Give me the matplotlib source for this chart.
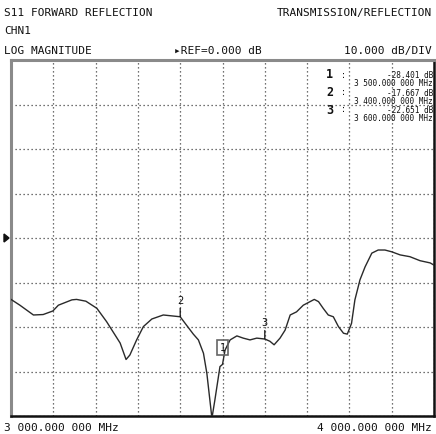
import matplotlib
matplotlib.use("Agg")
import matplotlib.pyplot as plt
from matplotlib.patches import Polygon
import numpy as np

# trace: frequency (MHz) and S11 (dB)
freq_mhz = [3000, 3021, 3053, 3076, 3099, 3112, 3144, 3155, 3177, 3203,
            3226, 3246, 3258, 3272, 3281, 3297, 3313, 3333, 3360, 3400,
            3415, 3431, 3443, 3455, 3463, 3475, 3482, 3494, 3500, 3506,
            3518, 3534, 3549, 3565, 3581, 3600, 3612, 3622, 3636, 3648,
            3660, 3675, 3691, 3707, 3717, 3727, 3738, 3750, 3762, 3774,
            3786, 3795, 3805, 3813, 3825, 3837, 3853, 3868, 3884, 3900,
            3920, 3943, 3967, 3991, 4000]
s11_db = [-13.8, -15.1, -17.3, -17.2, -16.4, -15.1, -13.9, -13.8, -14.2, -15.8,
          -18.8, -21.8, -23.6, -27.3, -26.3, -22.9, -19.9, -18.2, -17.3, -17.7,
          -19.6, -21.6, -22.9, -25.9, -30.4, -40.5, -36.4, -28.9, -28.4, -25.2,
          -22.9, -22.0, -22.5, -22.9, -22.5, -22.7, -23.2, -24.0, -22.5, -20.7,
          -17.3, -16.6, -15.1, -14.3, -13.8, -14.3, -15.8, -17.3, -17.7, -19.9,
          -21.4, -21.6, -19.2, -13.9, -9.4, -6.5, -3.4, -2.7, -2.7, -3.1,
          -3.8, -4.2, -5.1, -5.6, -6.1]

marker_ids = ["1", "2", "3"]
marker_freq = [3500.0, 3400.0, 3600.0]
marker_db = [-28.401, -17.667, -22.651]

f_start, f_stop = 3000.0, 4000.0
ref_db = 0.0
db_per_div = 10.0
n_ydiv, n_xdiv = 8, 10

W, H = 436, 434
MONO = ["DejaVu Sans Mono", "DejaVu Sans"]
INK = "#111111"


def px(x, y):
    return x / W, 1 - y / H


def mhz_label(f):
    return f"{int(f // 1000)} {f % 1000:07.3f} 000 MHz"


fig = plt.figure(figsize=(W / 100, H / 100), dpi=100)
fig.patch.set_facecolor("white")
ax = fig.add_axes([11 / W, 18 / H, 423 / W, 356 / H])

ax.plot(freq_mhz, s11_db, color="#2a2a2a", lw=1.0, zorder=3, clip_on=True)

ax.set_xlim(f_start, f_stop)
ymin = ref_db - db_per_div * n_ydiv / 2
ax.set_ylim(ymin, ref_db + db_per_div * n_ydiv / 2)
ax.set_xticks(np.linspace(f_start, f_stop, n_xdiv + 1))
ax.set_yticks(np.linspace(ymin, -ymin, n_ydiv + 1))
ax.tick_params(length=0, labelbottom=False, labelleft=False)
ax.grid(True, color="#444444", ls=(0, (1, 2.2)), lw=0.9)

for side in ("left", "top"):
    ax.spines[side].set_color("#8a8a8a")
    ax.spines[side].set_linewidth(2.2)
for side in ("right", "bottom"):
    ax.spines[side].set_color(INK)
    ax.spines[side].set_linewidth(1.8)

# markers: 1 is the active one (boxed), 2 and 3 get a number over a stem
for mid, f, v in zip(marker_ids, marker_freq, marker_db):
    if mid == "1":
        ax.annotate(mid, (f, v), xytext=(0, 12), textcoords="offset points",
                    ha="center", va="center", fontsize=7, family=MONO, color=INK,
                    bbox=dict(boxstyle="square,pad=0.25", fc="none", ec="#666666", lw=1.2))
    else:
        ax.annotate(mid, (f, v), xytext=(0, 8), textcoords="offset points",
                    ha="center", va="bottom", fontsize=7.5, family=MONO, color=INK,
                    arrowprops=dict(arrowstyle="-", color=INK, lw=0.9, shrinkA=0, shrinkB=0))

# marker readout, top right
rows_y = [75, 92.5, 110]
for mid, f, v, y in zip(marker_ids, marker_freq, marker_db, rows_y):
    fig.text(*px(326, y), mid, fontsize=8.5, fontweight="bold", family=MONO,
             color=INK, ha="left", va="center")
    fig.text(*px(341, y), ":", fontsize=6, family=MONO, color=INK, ha="left", va="center")
    fig.text(*px(433, y + 0.5), f"{v:.3f} dB", fontsize=5.6, family=MONO,
             color=INK, ha="right", va="center")
    fig.text(*px(433, y + 8.5), mhz_label(f), fontsize=5.6, family=MONO,
             color=INK, ha="right", va="center")

# header lines
hdr = dict(fontsize=8, family=MONO, color=INK, va="center")
fig.text(*px(4, 13), "S11 FORWARD REFLECTION", ha="left", **hdr)
fig.text(*px(432, 13), "TRANSMISSION/REFLECTION", ha="right", **hdr)
fig.text(*px(4, 31), "CHN1", ha="left", **hdr)
fig.text(*px(4, 51), "LOG MAGNITUDE", ha="left", **hdr)
fig.text(*px(174, 51), "\u25b8REF=0.000 dB", ha="left", **hdr)
fig.text(*px(432, 51), f"{db_per_div:.3f} dB/DIV", ha="right", **hdr)
fig.text(*px(4, 428), mhz_label(f_start), ha="left", **hdr)
fig.text(*px(432, 428), mhz_label(f_stop), ha="right", **hdr)

# reference level pointer at the left edge
fig.patches.append(Polygon([px(4, 234), px(4, 242), px(9, 238)], closed=True,
                           transform=fig.transFigure, color=INK))

fig.savefig("out.png", dpi=100, facecolor="white")
